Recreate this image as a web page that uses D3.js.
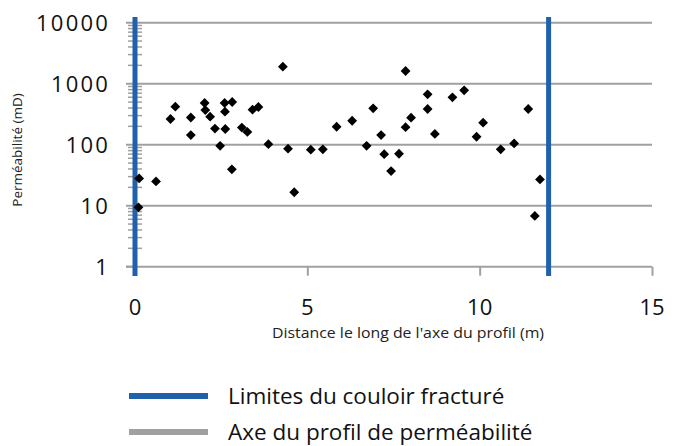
<!DOCTYPE html>
<html>
<head>
<meta charset="utf-8">
<script src="https://cdn.jsdelivr.net/npm/d3@7"></script>
<style>
  body { margin: 0; background: #fff; }
  svg { display: block; }
</style>
</head>
<body>
<svg id="main-svg" width="674" height="446"></svg>
<script>
// distance along profile (m) and permeability (mD)
var distance = [0.12, 0.10, 0.61, 1.03, 1.17, 1.62, 1.62, 2.02, 2.04, 2.18,
                2.32, 2.47, 2.60, 2.82, 2.61, 2.62, 2.81, 3.10, 3.26, 3.41,
                3.58, 3.87, 4.29, 4.44, 4.62, 5.10, 5.45, 5.85, 6.30, 6.72,
                6.91, 7.14, 7.23, 7.43, 7.66, 7.85, 7.85, 8.01, 8.49, 8.49,
                8.70, 9.21, 9.55, 9.91, 10.10, 10.61, 11.00, 11.41, 11.75, 11.60];
var permeability = [28, 9.4, 25, 264, 420, 279, 144, 483, 370, 288,
                    184, 96, 483, 501, 348, 181, 39.5, 191, 162, 375,
                    415, 102, 1900, 86, 16.6, 83, 84, 197, 247, 96,
                    395, 144, 70, 37, 71, 1615, 194, 277, 670, 385,
                    150, 598, 780, 135, 230, 84, 105, 385, 27, 6.8];
var limits = [0, 12];              // couloir fracturé
var xTicks = [0, 5, 10, 15];
var yTicks = [1, 10, 100, 1000, 10000];
var legendLabels = ["Limites du couloir fracturé", "Axe du profil de perméabilité"];

var blue = "#2160ab";
var grey = "#a0a0a0";

var svg = d3.select("#main-svg");

var x = d3.scaleLinear().domain([0, 15]).range([135, 652]);
var y = d3.scaleLog().domain([1, 10000]).range([266.7, 22.7]);

// gridlines (also act as major ticks on the left)
svg.append("g").selectAll("line")
   .data(yTicks.slice(1)).enter().append("line")
   .attr("x1", 126).attr("x2", 652)
   .attr("y1", function(d){ return y(d); })
   .attr("y2", function(d){ return y(d); })
   .style("stroke", grey).style("stroke-width", 2);

// x axis
var xAxis = d3.axisBottom(x).tickValues(xTicks).tickSize(9).tickFormat("");
var gx = svg.append("g").attr("transform", "translate(0," + y(1) + ")").call(xAxis);
gx.select(".domain").attr("d", "M126,0H652").style("stroke", grey).style("stroke-width", 2);
gx.selectAll(".tick line").style("stroke", grey).style("stroke-width", 2);

svg.append("g").selectAll("text")
   .data(xTicks).enter().append("text")
   .attr("x", function(d){ return x(d); })
   .attr("y", 315)
   .attr("text-anchor", "middle")
   .style("font-family", "Open Sans").style("font-size", "22px").style("fill", "#111")
   .text(function(d){ return d; });

// y axis: minor ticks crossing the axis
var minor = [];
yTicks.slice(0, 4).forEach(function(d){
  for (var k = 2; k < 10; k++) minor.push(d * k);
});
svg.append("g").selectAll("line")
   .data(minor).enter().append("line")
   .attr("x1", 128).attr("x2", 142)
   .attr("y1", function(d){ return y(d); })
   .attr("y2", function(d){ return y(d); })
   .style("stroke", grey).style("stroke-width", 1.5);
svg.append("line")
   .attr("x1", 126).attr("x2", 135)
   .attr("y1", y(1)).attr("y2", y(1))
   .style("stroke", grey).style("stroke-width", 2);

svg.append("g").selectAll("text")
   .data(yTicks).enter().append("text")
   .attr("x", 110)
   .attr("y", function(d){ return y(d) + 8; })
   .attr("text-anchor", "end")
   .style("font-family", "Open Sans").style("font-size", "22px")
   .style("letter-spacing", "2.2px").style("fill", "#111")
   .text(function(d){ return d; });

// fractured corridor limits
svg.append("g").selectAll("line")
   .data(limits).enter().append("line")
   .attr("x1", function(d){ return x(d); })
   .attr("x2", function(d){ return x(d); })
   .attr("y1", 17).attr("y2", 276)
   .style("stroke", blue).style("stroke-width", 5);

// points
svg.append("g").selectAll("path")
   .data(distance).enter().append("path")
   .attr("d", d3.symbol().type(d3.symbolSquare).size(48))
   .attr("transform", function(d, i){
     return "translate(" + x(d) + "," + y(permeability[i]) + ") rotate(45)";
   })
   .style("fill", "#000");

// axis titles
svg.append("text")
   .attr("transform", "translate(22,150) rotate(-90)")
   .attr("text-anchor", "middle")
   .style("font-family", "Open Sans").style("font-size", "13.5px").style("fill", "#222")
   .text("Perméabilité (mD)");

svg.append("text")
   .attr("x", 408).attr("y", 338)
   .attr("text-anchor", "middle")
   .attr("textLength", 272).attr("lengthAdjust", "spacingAndGlyphs")
   .style("font-family", "Open Sans").style("font-size", "14px").style("fill", "#222")
   .text("Distance le long de l'axe du profil (m)");

// legend
var legend = svg.append("g").selectAll("g")
   .data(legendLabels).enter().append("g")
   .attr("transform", function(d, i){ return "translate(0," + (396 + i * 36) + ")"; });
legend.append("line")
   .attr("x1", 129).attr("x2", 208)
   .style("stroke", function(d, i){ return i == 0 ? blue : grey; })
   .style("stroke-width", 6);
legend.append("text")
   .attr("x", 228).attr("y", 8)
   .style("font-family", "Open Sans").style("font-size", "22.5px").style("fill", "#111")
   .text(function(d){ return d; });
</script>
</body>
</html>
